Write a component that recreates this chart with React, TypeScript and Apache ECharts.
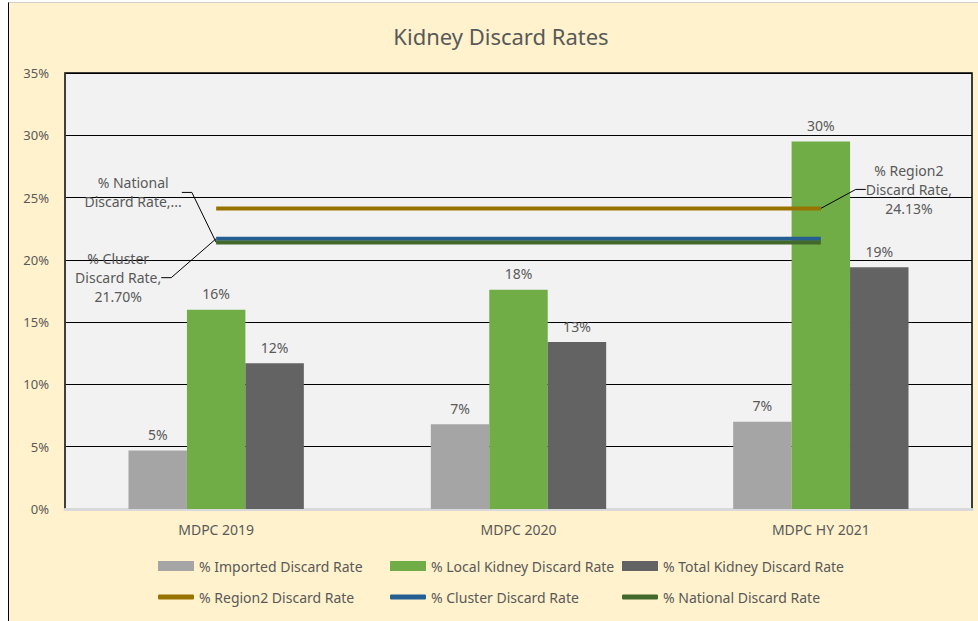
import React, { useEffect, useRef } from "react";
import * as echarts from "echarts";

const categories = ["MDPC 2019", "MDPC 2020", "MDPC HY 2021"];
const importedRate = [4.7, 6.8, 7.0];
const localRate = [16.0, 17.6, 29.5];
const totalRate = [11.7, 13.4, 19.4];
const region2Rate = [24.13, 24.13, 24.13];
const clusterRate = [21.7, 21.7, 21.7];
const nationalRate = [21.4, 21.4, 21.4];
const yTicks = { min: 0, max: 35, interval: 5 };

const FONT = "Noto Sans";
const TEXT = "#595959";

export default function App() {
  const ref = useRef<HTMLDivElement>(null);
  useEffect(() => {
    if (!ref.current) return;
    const chart = echarts.init(ref.current, undefined, { renderer: "svg" });
    const barLabel = {
      show: true,
      position: "top",
      distance: 9,
      color: TEXT,
      fontSize: 14,
      fontFamily: FONT,
      formatter: (p: any) => Math.round(p.value) + "%",
    };
    const lineLabelText: Record<string, string> = {
      "% Region2 Discard Rate": "% Region2\nDiscard Rate,\n24.13%",
      "% Cluster Discard Rate": "% Cluster\nDiscard Rate,\n21.70%",
      "% National Discard Rate": "% National\nDiscard Rate,...",
    };
    const mkLine = (name: string, data: number[], color: string, labelIdx: number) => ({
      name,
      type: "line",
      data: data.map((v, i) =>
        i === labelIdx
          ? { value: v, label: { show: true, formatter: lineLabelText[name] }, labelLine: { show: true } }
          : { value: v }
      ),
      symbol: "circle",
      symbolSize: 0.1,
      showSymbol: true,
      itemStyle: { color },
      lineStyle: { color, width: 4 },
      label: {
        show: false,
        color: TEXT,
        fontSize: 14,
        fontFamily: FONT,
        lineHeight: 19,
        align: "center",
      },
      labelLine: {
        show: false,
        length2: 10,
        lineStyle: { color: "#000", width: 1 },
      },
      z: 3,
    });
    const legendPos = [
      { name: "% Imported Discard Rate", left: 149, top: 556, line: false },
      { name: "% Local Kidney Discard Rate", left: 381, top: 556, line: false },
      { name: "% Total Kidney Discard Rate", left: 613, top: 556, line: false },
      { name: "% Region2 Discard Rate", left: 149, top: 587, line: true },
      { name: "% Cluster Discard Rate", left: 381, top: 587, line: true },
      { name: "% National Discard Rate", left: 613, top: 587, line: true },
    ];
    chart.setOption({
      animation: false,
      backgroundColor: "#FFF2CC",
      textStyle: { fontFamily: FONT },
      title: {
        text: "Kidney Discard Rates",
        left: 487,
        top: 17,
        textAlign: "center",
        textStyle: { color: TEXT, fontSize: 22, fontWeight: "normal", fontFamily: FONT },
      },
      legend: legendPos.map((l) => ({
        data: [{ name: l.name, icon: l.line ? "roundRect" : "rect" }],
        left: l.left,
        top: l.top,
        itemWidth: 36,
        itemHeight: l.line ? 5 : 10,
        padding: 0,
        selectedMode: false,
        textStyle: { color: TEXT, fontSize: 14, fontFamily: FONT },
      })),
      grid: {
        left: 56,
        right: 6,
        top: 70,
        bottom: 112,
        show: true,
        backgroundColor: "#F2F2F2",
        borderColor: "#000",
        borderWidth: 1.5,
      },
      xAxis: {
        type: "category",
        data: categories,
        axisTick: { show: false },
        axisLine: { show: true, lineStyle: { color: "#D9D9D9", width: 3 } },
        axisLabel: { color: TEXT, fontSize: 14, fontFamily: FONT, margin: 13 },
      },
      yAxis: {
        type: "value",
        min: yTicks.min,
        max: yTicks.max,
        interval: yTicks.interval,
        axisLine: { show: true, lineStyle: { color: "#404040", width: 1.5 } },
        axisTick: { show: false },
        splitLine: { show: true, lineStyle: { color: "#000", width: 1 } },
        axisLabel: {
          color: TEXT,
          fontSize: 13,
          fontFamily: FONT,
          margin: 16,
          formatter: "{value}%",
        },
      },
      labelLayout: (params: any) => {
        const r = params.rect;
        if (!r || params.seriesIndex < 3) return {};
        const cx = r.x + r.width / 2;
        const cy = r.y + r.height / 2;
        if (params.seriesIndex === 3) return { x: cx + 88, y: cy - 19, align: "center", verticalAlign: "middle" };
        if (params.seriesIndex === 4) return { x: cx - 98, y: cy + 39, align: "center", verticalAlign: "middle" };
        return { x: cx - 83, y: cy - 50, align: "center", verticalAlign: "middle" };
      },
      series: [
        {
          name: "% Imported Discard Rate",
          type: "bar",
          data: importedRate,
          barGap: "0%",
          barCategoryGap: "42%",
          itemStyle: { color: "#A5A5A5" },
          label: barLabel,
        },
        {
          name: "% Local Kidney Discard Rate",
          type: "bar",
          data: localRate,
          itemStyle: { color: "#70AD47" },
          label: barLabel,
        },
        {
          name: "% Total Kidney Discard Rate",
          type: "bar",
          data: totalRate,
          itemStyle: { color: "#636363" },
          label: barLabel,
        },
        mkLine("% Region2 Discard Rate", region2Rate, "#997300", 2),
        mkLine("% Cluster Discard Rate", clusterRate, "#255E91", 0),
        mkLine("% National Discard Rate", nationalRate, "#43682B", 0),
      ],
    });
    return () => chart.dispose();
  }, []);
  return (
    <div style={{ position: "fixed", left: 0, top: 0, width: 978, height: 621, background: "#fff" }}>
      <div
        style={{
          position: "absolute",
          left: 8,
          top: 2,
          width: 970,
          height: 619,
          borderLeft: "1px solid #000",
          borderTop: "1px solid #D0D0D0",
          background: "#FFF2CC",
        }}
      />
      <div ref={ref} style={{ position: "absolute", left: 9, top: 3, width: 969, height: 618 }} />
    </div>
  );
}
